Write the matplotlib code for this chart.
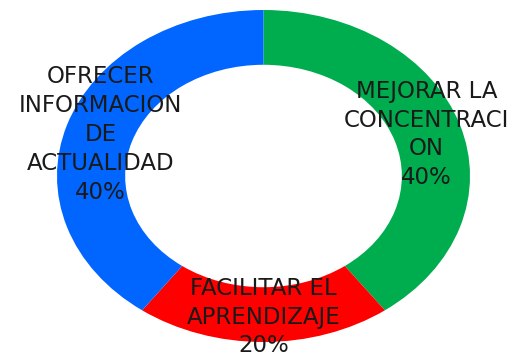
import matplotlib.pyplot as plt

# Survey answers and their shares
categories = ["MEJORAR LA\nCONCENTRACI\nON", "FACILITAR EL\nAPRENDIZAJE", "OFRECER\nINFORMACION\nDE\nACTUALIDAD"]
shares = [40, 20, 40]
colors = ["#00AD4E", "#FF0000", "#0066FF"]

fig = plt.figure(figsize=(5.13, 3.53), dpi=100)
# axes box sized so the ring comes out as a wide ellipse
ax = fig.add_axes([57 / 513, 11 / 353, 413 / 513, 332 / 353])

wedges, _ = ax.pie(shares, colors=colors, startangle=90, counterclock=False,
                   radius=1.0, wedgeprops=dict(width=0.33, linewidth=0))
ax.set_aspect("auto")
ax.set_xlim(-1, 1)
ax.set_ylim(-1, 1)

# label spots, in the same unit box as the ring
label_xy = [(0.79, 0.25), (0.0, -0.85), (-0.79, 0.25)]
for name, val, (x, y) in zip(categories, shares, label_xy):
    ax.text(x, y, f"{name}\n{val}%", ha="center", va="center",
            fontsize=16.5, color="#1a1a1a", linespacing=1.32,
            family="DejaVu Sans", clip_on=False)

fig.savefig("out.png", dpi=100)
